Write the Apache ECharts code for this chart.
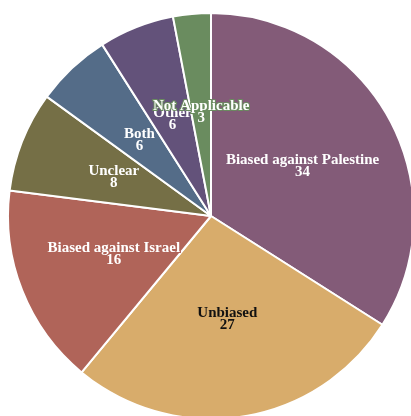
<!DOCTYPE html>
<html><head><meta charset="utf-8">
<script src="https://cdn.jsdelivr.net/npm/echarts@6/dist/echarts.min.js"></script>
<style>html,body{margin:0;padding:0;background:#fff}#c{width:411px;height:416px}</style>
</head><body><div id="c"></div>
<script>
const categories = ['Biased against Palestine','Unbiased','Biased against Israel','Unclear','Both','Other','Not Applicable'];
const values = [34, 27, 16, 8, 6, 6, 3];
const colors = ['#835b78','#d8ac6b','#b06459','#756f46','#546c88','#63527a','#6a8c5f'];
const labelColors = ['#fff','#111','#fff','#fff','#fff','#fff','#fff'];

const chart = echarts.init(document.getElementById('c'));
chart.setOption({
  animation: false,
  series: [{
    type: 'pie',
    center: [211, 216],
    radius: [0, 203],
    startAngle: 90,
    clockwise: true,
    avoidLabelOverlap: false,
    labelLayout: { hideOverlap: false },
    itemStyle: { borderColor: '#fff', borderWidth: 2 },
    label: {
      position: 'inside',
      formatter: '{b}\n{c}',
      fontFamily: 'Liberation Serif',
      fontWeight: 'bold',
      fontSize: 15,
      lineHeight: 12,
      textBorderWidth: 2
    },
    labelLine: { show: false },
    data: categories.map((n, i) => ({
      name: n, value: values[i],
      itemStyle: { color: colors[i] },
      label: { color: labelColors[i], textBorderColor: colors[i] }
    }))
  }]
});
</script></body></html>
